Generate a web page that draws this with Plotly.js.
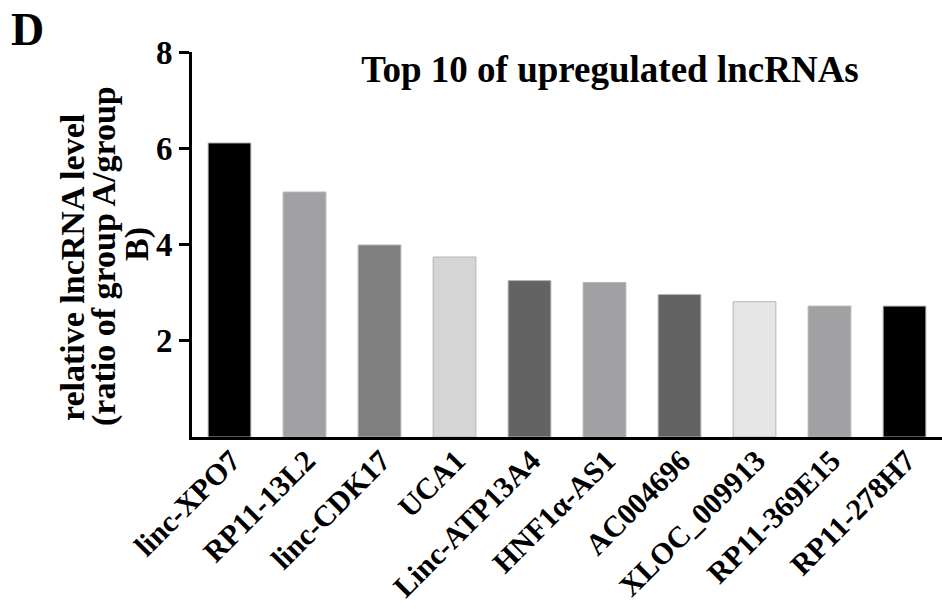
<!DOCTYPE html>
<html>
<head>
<meta charset="utf-8">
<script src="https://cdn.plot.ly/plotly-3.0.1.min.js"></script>
<style>
  html, body { margin: 0; padding: 0; background: #fff; }
  #chart { width: 942px; height: 609px; }
</style>
</head>
<body>
<div id="chart"></div>
<script>
// Top 10 upregulated lncRNAs: ratio of group A to group B
const genes = ["linc-XPO7", "RP11-13L2", "linc-CDK17", "UCA1", "Linc-ATP13A4",
               "HNF1\u03b1-AS1", "AC004696", "XLOC_009913", "RP11-369E15", "RP11-278H7"];
const ratios = [6.11, 5.09, 3.99, 3.74, 3.25, 3.21, 2.96, 2.81, 2.72, 2.72];
const barColors = ["#000000", "#a1a1a4", "#808080", "#d5d5d5", "#636363",
                   "#a1a1a4", "#626262", "#e6e6e6", "#a1a1a4", "#000000"];
const yTicks = [2, 4, 6, 8];
const yTitleLines = ["relative lncRNA level", "(ratio of group A/group", "B)"];

const serif = "'Liberation Serif', 'Times New Roman', serif";

const trace = {
  type: "bar",
  x: genes,
  y: ratios,
  marker: { color: barColors, line: { color: "#b4b4b4", width: 1 } },
  hoverinfo: "x+y"
};

// rotated y-axis title, one annotation per line for tight line spacing
const yTitleX = [72, 104, 137];
const yTitleY = [268, 256, 244];
const annotations = yTitleLines.map((t, i) => ({
  text: t,
  xref: "paper", yref: "paper",
  x: 0, y: 1 - (yTitleY[i] - 52) / 385,
  xanchor: "center", yanchor: "middle",
  xshift: yTitleX[i] - 192,
  textangle: -90,
  showarrow: false,
  font: { family: serif, size: 34, color: "#000", weight: "bold" }
}));
annotations.push({
  text: "D",
  xref: "paper", yref: "paper",
  x: 0, y: 1,
  xanchor: "center", yanchor: "middle",
  xshift: 27 - 192, yshift: 52 - 29,
  showarrow: false,
  font: { family: serif, size: 46, color: "#000", weight: "bold" }
});

const layout = {
  width: 942,
  height: 609,
  margin: { l: 192, r: 0, t: 52, b: 172 },
  paper_bgcolor: "#fff",
  plot_bgcolor: "#fff",
  showlegend: false,
  bargap: 0.43,
  title: {
    text: "Top 10 of upregulated lncRNAs",
    xref: "paper", x: (610 - 192) / 750, xanchor: "center",
    yref: "container", y: 1 - 69 / 609, yanchor: "middle",
    font: { family: serif, size: 37, color: "#000", weight: "bold" }
  },
  xaxis: {
    type: "category",
    range: [-0.5, 9.5],
    showline: true, linecolor: "#000", linewidth: 3,
    ticks: "", showgrid: false, zeroline: false,
    tickangle: -45,
    ticklabelshift: 2,
    ticklabelstandoff: -9,
    tickfont: { family: serif, size: 30, color: "#000", weight: "bold" }
  },
  yaxis: {
    range: [0, 8],
    tickvals: yTicks,
    ticktext: yTicks.map(String),
    showline: true, linecolor: "#000", linewidth: 3,
    ticks: "outside", ticklen: 10, tickwidth: 3, tickcolor: "#000",
    showgrid: false, zeroline: false,
    tickfont: { family: serif, size: 33, color: "#000", weight: "bold" }
  },
  annotations: annotations
};

Plotly.newPlot("chart", [trace], layout, { displayModeBar: false, staticPlot: true });
</script>
</body>
</html>
